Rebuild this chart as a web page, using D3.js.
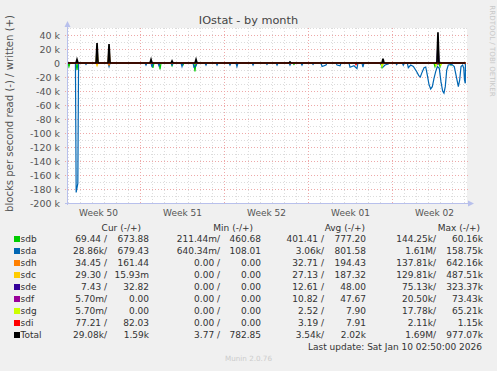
<!DOCTYPE html>
<html>
<head>
<meta charset="utf-8">
<script src="https://cdn.jsdelivr.net/npm/d3@7"></script>
<style>
    body { margin: 0; background: #f0f0f0; }
    svg { display: block; font-family: "DejaVu Sans", sans-serif; }
</style>
</head>
<body>
<svg id="chart" width="497" height="371"></svg>
<script>
// ============================================
// Munin IOstat - by month
// times are days since 2025-12-01 00:00 UTC, values in blocks/s
// samples not listed are zero
// ============================================

const tStart = 6.917;
const tEnd = 40.25;
const tLast = 40.118;

const devices = ['sdb', 'sda', 'sdh', 'sdc', 'sde', 'sdf', 'sdg', 'sdi', 'Total'];

// read (drawn negative)
const sdbRead = [[7.08, 5000], [7.75, 10000], [14.08, 7000], [14.67, 9000], [15.67, 4000],
    [16.58, 3000], [17.58, 12000], [25.83, 2000], [33.17, 7600], [37.58, 5000], [38.0, 5000], [38.92, 3000]];
const sdaRead = [[7.62, 0], [7.68, 185000], [7.82, 172000], [7.88, 0],
    [8.5, 2000], [10.42, 5000], [13.5, 3000], [14.0, 6000], [14.58, 4000], [15.67, 3000],
    [16.5, 5000], [17.5, 6000], [17.67, 4000], [18.5, 3000], [19.42, 3000], [20.5, 3000],
    [21.08, 5000], [22.42, 3000], [23.58, 2000], [24.42, 3000], [25.5, 3000], [26.5, 3000],
    [27.42, 2000], [28.17, 5000], [28.5, 3000], [29.42, 3000], [29.67, 4000], [30.5, 6000],
    [30.83, 4000], [31.08, 8000], [31.58, 6000], [33.0, 500],
    [33.25, 6000], [33.42, 2900], [33.69, 1400], [34.39, 2400], [34.94, 3300], [35.36, 6700],
    [35.56, 2900], [35.78, 4800], [36.06, 12400], [36.23, 18000], [36.36, 20000], [36.47, 14800],
    [36.67, 6700], [36.81, 5700], [36.94, 17000], [37.08, 30500], [37.22, 37000], [37.36, 33800],
    [37.5, 22000], [37.64, 12400], [37.78, 5200], [37.94, 7600], [38.08, 26700], [38.22, 40000],
    [38.33, 43000], [38.44, 33800], [38.56, 10000], [38.69, 2900], [38.97, 1900], [39.19, 5200],
    [39.39, 22000], [39.53, 33800], [39.64, 24000], [39.75, 5200], [39.89, 2900], [39.98, 7600],
    [40.04, 24000], [40.11, 29000]];
const sdhRead = [[10.42, 3000]];
const sdcRead = [[9.42, 4000]];
const sdeRead = [[37.83, 2000]];
const sdfRead = [];
const sdgRead = [[33.17, 6000], [37.67, 4000], [38.08, 3000]];
const sdiRead = [[31.0, 2500]];

// written (drawn positive)
const sdhWrite = [[10.42, 24000]];
const sdcWrite = [[9.42, 25000]];
const sdeWrite = [[37.83, 33000]];
const totalWrite = [[7.75, 5000], [9.42, 28600], [10.42, 27000], [13.92, 5000], [15.67, 3000],
    [17.67, 5000], [25.5, 1500], [33.25, 6000], [37.83, 44000]];

const seriesRead = [sdbRead, sdaRead, sdhRead, sdcRead, sdeRead, sdfRead, sdgRead, sdiRead, null];
const seriesWrite = [[], [], sdhWrite, sdcWrite, sdeWrite, [], [], [], totalWrite];

// legend table
const curRead = ['69.44 /', '28.86k/', '34.45 /', '29.30 /', '7.43 /', '5.70m/', '5.70m/', '77.21 /', '29.08k/'];
const curWrite = ['673.88', '679.43', '161.44', '15.93m', '32.82', '0.00', '0.00', '82.03', '1.59k'];
const minRead = ['211.44m/', '640.34m/', '0.00 /', '0.00 /', '0.00 /', '0.00 /', '0.00 /', '0.00 /', '3.77 /'];
const minWrite = ['460.68', '108.01', '0.00', '0.00', '0.00', '0.00', '0.00', '0.00', '782.85'];
const avgRead = ['401.41 /', '3.06k/', '32.71 /', '27.13 /', '12.61 /', '10.82 /', '2.52 /', '3.19 /', '3.54k/'];
const avgWrite = ['777.20', '801.58', '194.43', '187.32', '48.00', '47.67', '7.90', '7.91', '2.02k'];
const maxRead = ['144.25k/', '1.61M/', '137.81k/', '129.81k/', '75.13k/', '20.50k/', '17.78k/', '2.11k/', '1.69M/'];
const maxWrite = ['60.16k', '158.75k', '642.16k', '487.51k', '323.37k', '73.43k', '65.21k', '1.15k', '977.07k'];
const headers = ['Cur (-/+)', 'Min (-/+)', 'Avg (-/+)', 'Max (-/+)'];

const colors = ['#00cc00', '#0066b3', '#ff8000', '#ffcc00', '#330099', '#990099', '#ccff00', '#ff0000', '#000000'];

const day0 = Date.UTC(2025, 11, 1);
const toDate = d => new Date(day0 + d * 864e5);

const margin = { left: 67, top: 28 };
const plotW = 400, plotH = 175;

const svg = d3.select('#chart');

const x = d3.scaleUtc()
    .domain([toDate(tStart), toDate(tEnd)])
    .range([margin.left, margin.left + plotW]);

const y = d3.scaleLinear()
    .domain([-200000, 50000])
    .range([margin.top + plotH, margin.top]);

// Title
svg.append('text')
    .attr('x', 248.5).attr('y', 24)
    .attr('text-anchor', 'middle')
    .style('font-size', '11.3px')
    .style('fill', '#444')
    .text('IOstat - by month');

// Side texts
svg.append('text')
    .attr('transform', 'translate(490,51) rotate(90)')
    .attr('text-anchor', 'middle')
    .style('font-size', '7.1px')
    .style('fill', '#c8c8c8')
    .text('RRDTOOL / TOBI OETIKER');

svg.append('text')
    .attr('transform', 'translate(12.5,113.5) rotate(-90)')
    .attr('text-anchor', 'middle')
    .style('font-size', '10.1px')
    .style('fill', '#555')
    .text('blocks per second read (-) / written (+)');

// Plot background
svg.append('rect')
    .attr('x', margin.left).attr('y', margin.top)
    .attr('width', plotW).attr('height', plotH)
    .attr('fill', '#fff');

const grid = svg.append('g');

// Minor grid
const days = d3.utcDay.range(x.domain()[0], x.domain()[1]);
grid.selectAll('line.vmin')
    .data(days)
    .join('line')
    .attr('x1', d => Math.round(x(d)) + 0.5).attr('x2', d => Math.round(x(d)) + 0.5)
    .attr('y1', margin.top).attr('y2', margin.top + plotH)
    .attr('stroke', '#dcdcdc').attr('stroke-dasharray', '1,2');

const minorY = d3.range(-190000, 50001, 10000).filter(v => v % 20000 !== 0);
grid.selectAll('line.hmin')
    .data(minorY)
    .join('line')
    .attr('x1', margin.left).attr('x2', margin.left + plotW)
    .attr('y1', d => Math.round(y(d)) + 0.5).attr('y2', d => Math.round(y(d)) + 0.5)
    .attr('stroke', '#dcdcdc').attr('stroke-dasharray', '1,2');

// Major grid
const sundays = d3.utcSunday.range(x.domain()[0], x.domain()[1]);
grid.selectAll('line.vmaj')
    .data(sundays)
    .join('line')
    .attr('x1', d => Math.round(x(d)) + 0.5).attr('x2', d => Math.round(x(d)) + 0.5)
    .attr('y1', margin.top).attr('y2', margin.top + plotH + 2)
    .attr('stroke', '#eea8a8').attr('stroke-dasharray', '1,2');

const majorY = d3.range(-180000, 40001, 20000);
grid.selectAll('line.hmaj')
    .data(majorY)
    .join('line')
    .attr('x1', margin.left - 2).attr('x2', margin.left + plotW + 2)
    .attr('y1', d => Math.round(y(d)) + 0.5).attr('y2', d => Math.round(y(d)) + 0.5)
    .attr('stroke', '#eea8a8').attr('stroke-dasharray', '1,2');

// Axes labels
const fmtY = v => v === 0 ? '0' : `${v / 1000} k`;
const yAxis = svg.append('g')
    .attr('transform', `translate(${margin.left},0)`)
    .call(d3.axisLeft(y).tickValues(d3.range(-200000, 40001, 20000)).tickFormat(fmtY).tickSize(0).tickPadding(7));
yAxis.select('.domain').remove();
yAxis.selectAll('text').style('font-size', '9.5px').style('fill', '#555').style('font-family', '"DejaVu Sans", sans-serif');

const weekMids = d3.utcSunday.range(d3.utcDay.offset(x.domain()[0], -7), x.domain()[1])
    .map(d => d3.utcHour.offset(d, 84))
    .filter(d => d >= x.domain()[0] && d <= x.domain()[1]);
const xAxis = svg.append('g')
    .attr('transform', `translate(0,${margin.top + plotH})`)
    .call(d3.axisBottom(x).tickValues(weekMids).tickFormat(d3.utcFormat('Week %V')).tickSize(0).tickPadding(7));
xAxis.select('.domain').remove();
xAxis.selectAll('text').style('font-size', '9px').style('fill', '#555').style('font-family', '"DejaVu Sans", sans-serif');

// Series lines
const step = 1 / 12;
function samplesToPoints(samples, sign) {
    const s = samples.slice().sort((a, b) => a[0] - b[0]);
    const pts = [[tStart, 0]];
    s.forEach((d, i) => {
        const prev = i > 0 ? s[i - 1][0] : -Infinity;
        const next = i < s.length - 1 ? s[i + 1][0] : Infinity;
        if (d[0] - prev > 0.35) pts.push([d[0] - step, 0]);
        pts.push([d[0], d[1]]);
        if (next - d[0] > 0.35 && d[0] + step < tLast) pts.push([d[0] + step, 0]);
    });
    if (pts[pts.length - 1][0] < tLast) pts.push([tLast, 0]);
    return pts.map(p => [p[0], sign * p[1]]);
}

const line = d3.line()
    .x(d => x(toDate(d[0])))
    .y(d => y(d[1]));

svg.append('clipPath').attr('id', 'clip')
    .append('rect')
    .attr('x', margin.left).attr('y', margin.top)
    .attr('width', plotW).attr('height', plotH);

const plot = svg.append('g').attr('clip-path', 'url(#clip)');

devices.forEach((name, i) => {
    const wr = seriesWrite[i];
    const rd = seriesRead[i];
    if (rd) {
        plot.append('path')
            .datum(samplesToPoints(rd, -1))
            .attr('d', line)
            .attr('fill', 'none')
            .attr('stroke', colors[i])
            .attr('stroke-width', 1.2);
    }
    plot.append('path')
        .datum(samplesToPoints(wr, 1))
        .attr('d', line)
        .attr('fill', 'none')
        .attr('stroke', colors[i])
        .attr('stroke-width', name === 'Total' ? 1.7 : 1.2);
});

// Axis lines + arrows
const axisColor = '#b8c0ec';
svg.append('line')
    .attr('x1', margin.left + 0.5).attr('x2', margin.left + 0.5)
    .attr('y1', margin.top + plotH + 2).attr('y2', margin.top - 3)
    .attr('stroke', axisColor);
svg.append('line')
    .attr('x1', margin.left - 2).attr('x2', margin.left + plotW + 3)
    .attr('y1', margin.top + plotH + 0.5).attr('y2', margin.top + plotH + 0.5)
    .attr('stroke', axisColor);
svg.append('path')
    .attr('d', `M${margin.left - 2.5},${margin.top - 1} L${margin.left + 3.5},${margin.top - 1} L${margin.left + 0.5},${margin.top - 7} Z`)
    .attr('fill', axisColor);
svg.append('path')
    .attr('d', `M${margin.left + plotW + 1},${margin.top + plotH - 2.5} L${margin.left + plotW + 1},${margin.top + plotH + 3.5} L${margin.left + plotW + 7},${margin.top + plotH + 0.5} Z`)
    .attr('fill', axisColor);

// Legend
const legend = svg.append('g')
    .style('font-size', '9px')
    .style('fill', '#333');

const headerEnds = [141, 253, 365, 480];
legend.selectAll('text.hdr')
    .data(headers)
    .join('text')
    .attr('x', (d, i) => headerEnds[i])
    .attr('y', 230.5)
    .attr('text-anchor', 'end')
    .text(d => d);

const rowY = i => 239 + i * 12;
const columns = [
    [curRead, 107], [curWrite, 149],
    [minRead, 220], [minWrite, 261],
    [avgRead, 324], [avgWrite, 366],
    [maxRead, 436], [maxWrite, 483]
];

const rows = legend.selectAll('g.row')
    .data(devices)
    .join('g')
    .attr('transform', (d, i) => `translate(0,${rowY(i)})`);

rows.append('rect')
    .attr('x', 14).attr('y', -3)
    .attr('width', 6).attr('height', 6)
    .attr('fill', (d, i) => colors[i]);

rows.append('text')
    .attr('x', 20.5).attr('y', 3.3)
    .text(d => d);

columns.forEach(([vals, xEnd]) => {
    rows.append('text')
        .attr('x', xEnd).attr('y', 3.3)
        .attr('text-anchor', 'end')
        .text((d, i) => vals[i]);
});

legend.append('text')
    .attr('x', 482).attr('y', 350.3)
    .attr('text-anchor', 'end')
    .text('Last update: Sat Jan 10 02:50:00 2026');

svg.append('text')
    .attr('x', 248.5).attr('y', 360.5)
    .attr('text-anchor', 'middle')
    .style('font-size', '7.2px')
    .style('fill', '#cccccc')
    .text('Munin 2.0.76');
</script>
</body>
</html>
